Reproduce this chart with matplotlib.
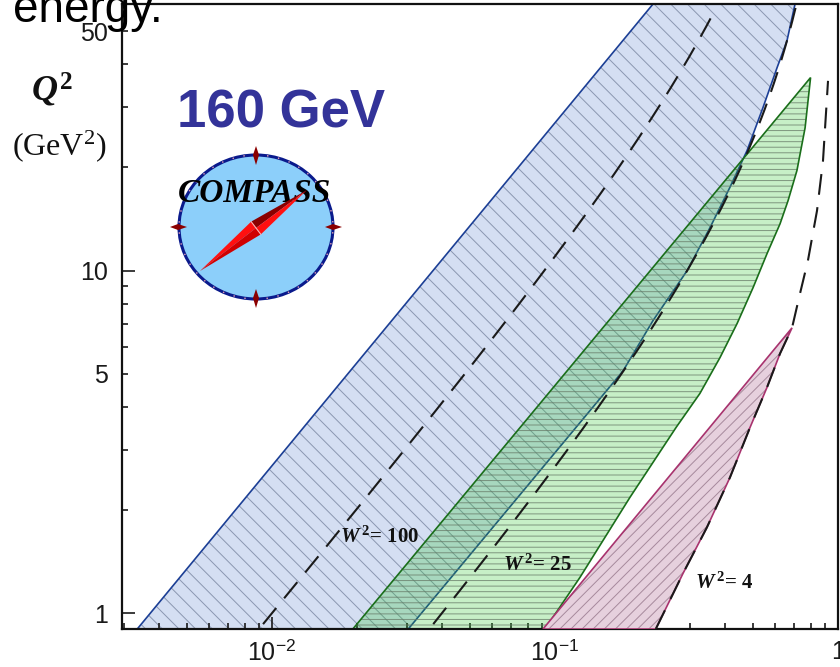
import numpy as np
import matplotlib
matplotlib.use("Agg")
import matplotlib.pyplot as plt
from matplotlib.patches import Polygon, Ellipse

plt.rcParams["font.family"] = ["Liberation Sans", "DejaVu Sans"]
plt.rcParams["mathtext.fontset"] = "custom"
plt.rcParams["mathtext.rm"] = "Liberation Sans"
plt.rcParams["mathtext.it"] = "Liberation Serif:italic:bold"
plt.rcParams["mathtext.bf"] = "Liberation Serif:bold"
plt.rcParams["mathtext.sf"] = "Liberation Serif"
plt.rcParams["hatch.linewidth"] = 0.7

# ---- kinematic coverage regions (x_Bj, Q^2 in GeV^2) ----
# 160 GeV muon beam (blue)
blue_left_x = [0.00334, 0.222]
blue_left_q2 = [0.9, 60.0]
blue_right_x = [0.705, 0.660, 0.609, 0.543, 0.477, 0.415, 0.353, 0.293, 0.222, 0.174, 0.0303]
blue_right_q2 = [60.0, 46.8, 39.1, 29.9, 22.4, 17.5, 13.35, 10.0, 7.15, 5.1, 0.9]

# green region
green_left_x = [0.0193, 0.800]
green_left_q2 = [0.9, 36.6]
green_right_x = [0.765, 0.716, 0.666, 0.624, 0.561, 0.501, 0.440, 0.383, 0.325,
                 0.268, 0.184, 0.1225, 0.0922]
green_right_q2 = [26.1, 19.6, 16.0, 13.7, 11.2, 8.92, 7.01, 5.58, 4.38,
                  3.49, 2.18, 1.273, 0.9]

# W^2 = 4 boundary, bottom to top (right edge of the pink region below Q^2 = 6.8)
w2_4_x = [0.227, 0.2834, 0.344, 0.415, 0.489, 0.561, 0.624, 0.688, 0.734, 0.783,
          0.843, 0.885, 0.922]
w2_4_q2 = [0.9, 1.308, 1.78, 2.49, 3.49, 4.56, 5.73, 6.81, 8.57, 10.7,
           14.96, 20.9, 35.8]

# pink region
pink_left_x = [0.0907, 0.688]
pink_left_q2 = [0.9, 6.81]
pink_right_x = w2_4_x[:8][::-1][1:]
pink_right_q2 = w2_4_q2[:8][::-1][1:]

# constant invariant-mass contours for W^2 = 100 and 25
w2_values = [100, 25]
w2_q2_max = [56.0, 62.0]
w2_q2_min = [0.93, 0.93]
proton_mass = 0.938

w2_labels = ["100", "25", "4"]
w2_label_x = [0.01738, 0.0655, 0.3125]
w2_label_q2 = [1.666, 1.38, 1.223]

# axis ticks
x_major = [0.01, 0.1, 1.0]
x_major_labels = [r"$10^{-2}$", r"$10^{-1}$", "1"]
y_major = [1, 10]
y_major_labels = ["1", "10"]
y_minor = [2, 3, 4, 5, 6, 7, 8, 9, 20, 30, 40, 50]
y_minor_labels = ["", "", "", "5", "", "", "", "", "", "", "", "50"]

W, H = 840, 667
fig = plt.figure(figsize=(W / 100, H / 100), dpi=100)
ax = fig.add_axes([122 / W, 38 / H, (838 - 122) / W, (629 - 4) / H])
ax.set_xscale("log")
ax.set_yscale("log")
ax.set_xlim(0.00295, 1.0)
ax.set_ylim(0.9, 60.0)


def region(left_x, left_q2, right_x, right_q2, face, alpha, hatch, hatch_col, edge, z):
    verts = list(zip(left_x, left_q2)) + list(zip(right_x, right_q2))
    ax.add_patch(Polygon(verts, closed=True, facecolor=face, alpha=alpha,
                         edgecolor="none", zorder=z))
    ax.add_patch(Polygon(verts, closed=True, facecolor="none", edgecolor=hatch_col,
                         linewidth=0, hatch=hatch, zorder=z + 0.1))
    ax.add_patch(Polygon(verts, closed=True, facecolor="none", edgecolor=edge,
                         linewidth=1.2, zorder=z + 0.2))


region(blue_left_x, blue_left_q2, blue_right_x, blue_right_q2,
       "#d4def2", 1.0, "\\\\", (0.42, 0.47, 0.58, 0.7), "#1c3f95", 1)
region(green_left_x, green_left_q2, green_right_x, green_right_q2,
       (35 / 255, 195 / 255, 35 / 255), 0.25, "---", (0.40, 0.47, 0.40, 0.75), "#1a6e1a", 2)
region(pink_left_x, pink_left_q2, pink_right_x, pink_right_q2,
       "#e6d0dd", 1.0, "///", (0.55, 0.42, 0.50, 0.7), "#a8336e", 3)

# dashed W^2 = const lines:  Q^2 = (W^2 - M^2) x / (1 - x)
dash = dict(color="#1a1a1a", lw=1.5, ls=(0, (10, 6)), zorder=5)
for w2, qlo, qhi in zip(w2_values, w2_q2_min, w2_q2_max):
    q2 = np.geomspace(qlo, qhi, 200)
    x = q2 / (q2 + w2 - proton_mass ** 2)
    ax.plot(x, q2, **dash)
ax.plot(w2_4_x, w2_4_q2, **dash)

for lab, lx, ly in zip(w2_labels, w2_label_x, w2_label_q2):
    ax.text(lx, ly, r"$W^{\,\mathbf{2}}$= " + lab, family="Liberation Serif",
            weight="bold", fontsize=15, ha="left", va="center", color="#111111",
            zorder=6)

# ticks and spines
ax.set_xticks(x_major, labels=x_major_labels)
ax.set_yticks(y_major, labels=y_major_labels)
ax.set_yticks(y_minor, labels=y_minor_labels, minor=True)
ax.tick_params(which="both", direction="in", top=False, right=False,
               width=1.2, colors="#1a1a1a", labelsize=18)
ax.tick_params(which="major", length=9)
ax.tick_params(which="minor", length=4.5)
ax.tick_params(axis="y", which="both", pad=10)
ax.tick_params(axis="x", which="both", pad=8)
for s in ax.spines.values():
    s.set_linewidth(1.6)
    s.set_color("#111111")

# axis title
fig.text(52 / W, 1 - 90 / H, r"$Q^{\mathbf{2}}$", fontsize=26,
         ha="center", va="center", color="#111111")
fig.text(59 / W, 1 - 146 / H, r"(GeV$^{\mathsf{2}}$)", family="Liberation Serif",
         fontsize=23, ha="center", va="center", color="#111111")

# beam energy
fig.text(177 / W, 1 - 128 / H, "160 GeV", fontsize=38, weight="bold",
         color="#333399", ha="left", va="baseline")

# compass badge
bx = fig.add_axes([165 / W, 1 - 315 / H, 180 / W, 175 / H])
bx.set_xlim(165, 345)
bx.set_ylim(315, 140)
bx.axis("off")
bx.add_patch(Ellipse((256, 227), 154, 144, facecolor="#8ccffa",
                     edgecolor="#0a1a8c", lw=2.2, zorder=1))
bx.add_patch(Ellipse((256, 227), 154, 144, facecolor="none",
                     edgecolor="#e8a0b4", lw=1.0, ls=(0, (1, 7)), zorder=2))
dk = "#8b0000"
for verts in ([(256, 146), (259, 155), (256, 165), (253, 155)],
              [(256, 289), (259, 298), (256, 308), (253, 298)],
              [(170, 227), (178, 224), (187, 227), (178, 230)],
              [(325, 227), (333, 224), (342, 227), (333, 230)]):
    bx.add_patch(Polygon(verts, closed=True, facecolor=dk, edgecolor="none", zorder=3))
bx.text(255, 193, "COMPASS", family="Liberation Serif", weight="bold",
        style="italic", fontsize=24, ha="center", va="center", color="black", zorder=4)
A = np.array([200.0, 271.0])
B = np.array([307.0, 190.0])
C = np.array([256.0, 228.0])
u = (B - A) / np.linalg.norm(B - A)
n = np.array([-u[1], u[0]])
P1 = C + 8 * n
P2 = C - 8 * n
bx.add_patch(Polygon([A, C, P2], facecolor="#ff1010", edgecolor="none", zorder=5))
bx.add_patch(Polygon([A, C, P1], facecolor="#d00000", edgecolor="none", zorder=5))
bx.add_patch(Polygon([B, C, P2], facecolor="#8b0000", edgecolor="none", zorder=5))
bx.add_patch(Polygon([B, C, P1], facecolor="#ff1010", edgecolor="none", zorder=5))
bx.plot([P1[0], P2[0]], [P1[1], P2[1]], color="#ffb0b0", lw=0.8, zorder=6)

# slide title fragment
fig.text(13 / W, 1 - 22 / H, "energy.", fontsize=33, color="black",
         ha="left", va="baseline", zorder=10)

fig.savefig("out.png", dpi=100, facecolor="white")
